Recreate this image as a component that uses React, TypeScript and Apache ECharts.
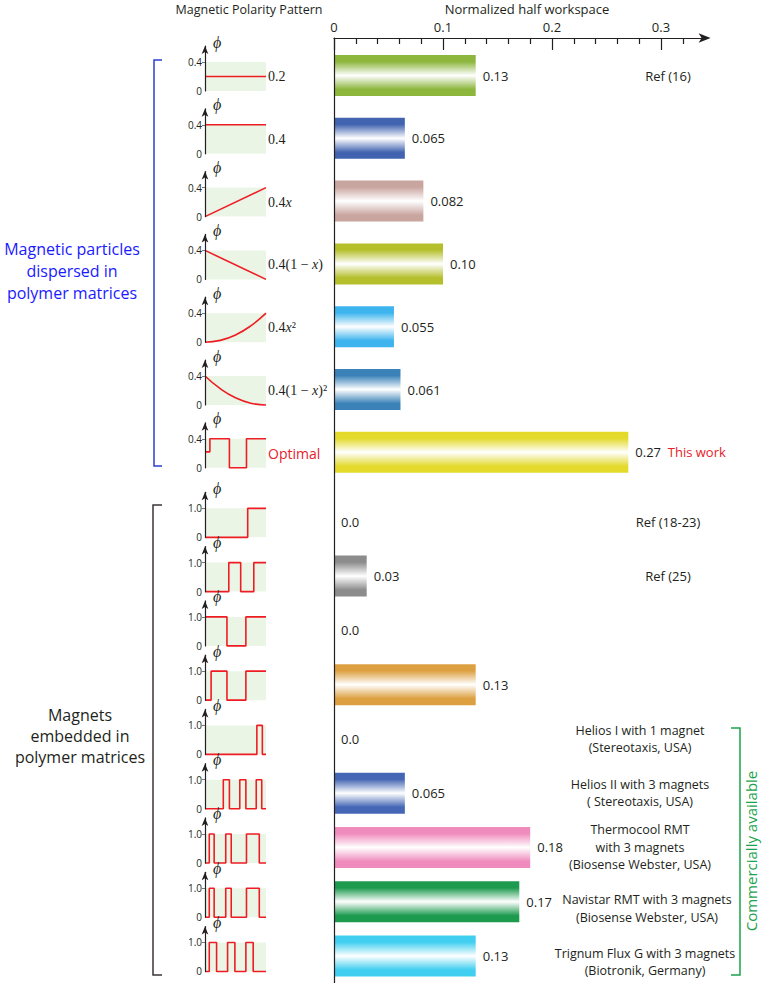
import React, { useEffect, useRef } from 'react';
import * as echarts from 'echarts';

const SANS = '"Open Sans", "Noto Sans", sans-serif';
const SERIF = '"Liberation Serif", "DejaVu Serif", serif';
const INK = '#231f20';

// ---------- data ----------
const particleCategories = ['0.2', '0.4', '0.4x', '0.4(1-x)', '0.4x^2', '0.4(1-x)^2', 'Optimal'];
const particleValues = [0.13, 0.065, 0.082, 0.1, 0.055, 0.061, 0.27];
const particleValueLabels = ['0.13', '0.065', '0.082', '0.10', '0.055', '0.061', '0.27'];
const particleColors = ['#8cb63c', '#4264b0', '#c9a5a0', '#b5bf2c', '#3db4ee', '#3a82b8', '#e3da2c'];
const particleInlineNotes = ['', '', '', '', '', '', 'This work'];
const particlePatternLabels = [
  '{n|0.2}',
  '{n|0.4}',
  '{n|0.4}{i|x}',
  '{n|0.4(1 − }{i|x}{n|)}',
  '{n|0.4}{i|x}{n|²}',
  '{n|0.4(1 − }{i|x}{n|)²}',
  '{o|Optimal}',
];
const particlePatterns: number[][][] = [
  [[0, 0.2], [1, 0.2]],
  [[0, 0.4], [1, 0.4]],
  [[0, 0], [1, 0.4]],
  [[0, 0.4], [1, 0]],
  [[0, 0], [0.25, 0.025], [0.5, 0.1], [0.75, 0.225], [1, 0.4]],
  [[0, 0.4], [0.25, 0.225], [0.5, 0.1], [0.75, 0.025], [1, 0]],
  [[0, 0.22], [0.08, 0.22], [0.08, 0.4], [0.4, 0.4], [0.4, 0], [0.68, 0], [0.68, 0.4], [1, 0.4]],
];
const particleSmooth = [false, false, false, false, true, true, false];

const magnetCategories = ['M1', 'M2', 'M3', 'M4', 'Helios I', 'Helios II', 'Thermocool', 'Navistar', 'Trignum'];
const magnetValues = [0, 0.03, 0, 0.13, 0, 0.065, 0.18, 0.17, 0.13];
const magnetValueLabels = ['0.0', '0.03', '0.0', '0.13', '0.0', '0.065', '0.18', '0.17', '0.13'];
const magnetColors = ['#999999', '#8c8c8c', '#999999', '#dda040', '#999999', '#4466b4', '#f08cbd', '#1c9a4e', '#40cff0'];
const magnetPatterns: number[][][] = [
  [[0, 0], [0.7, 0], [0.7, 1], [1, 1]],
  [[0, 0], [0.39, 0], [0.39, 1], [0.585, 1], [0.585, 0], [0.8, 0], [0.8, 1], [1, 1]],
  [[0, 1], [0.36, 1], [0.36, 0], [0.67, 0], [0.67, 1], [1, 1]],
  [[0, 0], [0.1, 0], [0.1, 1], [0.36, 1], [0.36, 0], [0.67, 0], [0.67, 1], [1, 1]],
  [[0, 0], [0.85, 0], [0.85, 1], [0.94, 1], [0.94, 0], [1, 0]],
  [[0, 0], [0.3, 0], [0.3, 1], [0.4, 1], [0.4, 0], [0.57, 0], [0.57, 1], [0.67, 1], [0.67, 0], [0.84, 0], [0.84, 1], [0.93, 1], [0.93, 0], [1, 0]],
  [[0, 0], [0.07, 0], [0.07, 1], [0.15, 1], [0.15, 0], [0.34, 0], [0.34, 1], [0.43, 1], [0.43, 0], [0.68, 0], [0.68, 1], [0.89, 1], [0.89, 0], [1, 0]],
  [[0, 0], [0.07, 0], [0.07, 1], [0.15, 1], [0.15, 0], [0.34, 0], [0.34, 1], [0.43, 1], [0.43, 0], [0.68, 0], [0.68, 1], [0.89, 1], [0.89, 0], [1, 0]],
  [[0, 0], [0.07, 0], [0.07, 1], [0.19, 1], [0.19, 0], [0.37, 0], [0.37, 1], [0.49, 1], [0.49, 0], [0.67, 0], [0.67, 1], [0.79, 1], [0.79, 0], [1, 0]],
];

const xMajorTicks = [0, 0.1, 0.2, 0.3];
const xMinorTicks = [0.02, 0.04, 0.06, 0.08, 0.12, 0.14, 0.16, 0.18, 0.22, 0.24, 0.26, 0.28, 0.32];

const refNotes = [
  { group: 'p', row: 0, text: 'Ref (16)' },
  { group: 'm', row: 0, text: 'Ref (18-23)' },
  { group: 'm', row: 1, text: 'Ref (25)' },
];
const commercialNotes = [
  { row: 4, dx: 0, dy: 0, text: 'Helios I with 1 magnet\n(Stereotaxis, USA)' },
  { row: 5, dx: 0, dy: 0, text: 'Helios II with 3 magnets\n( Stereotaxis, USA)' },
  { row: 6, dx: 0, dy: 0, text: 'Thermocool RMT\nwith 3 magnets\n(Biosense Webster, USA)' },
  { row: 7, dx: 7, dy: 7, text: 'Navistar RMT with 3 magnets\n(Biosense Webster, USA)' },
  { row: 8, dx: 5, dy: 6, text: 'Trignum Flux G with 3 magnets\n(Biotronik, Germany)' },
];

// ---------- layout ----------
const W = 762;
const H = 983;
const X0 = 334;
const XSCALE = 1090;
const XMAX = 0.34;
const AXIS_Y = 38;
const P_TOP = 44.1;
const P_STEP = 62.8;
const M_TOP = 494.7;
const M_STEP = 54.27;
const rowP = (i: number) => P_TOP + P_STEP * (i + 0.5);
const rowM = (i: number) => M_TOP + M_STEP * (i + 0.5);

const grad = (c: string) =>
  new echarts.graphic.LinearGradient(0, 0, 0, 1, [
    { offset: 0, color: c },
    { offset: 0.16, color: c },
    { offset: 0.5, color: '#ffffff' },
    { offset: 0.84, color: c },
    { offset: 1, color: c },
  ]);

function buildOption() {
  const grids: any[] = [];
  const xAxes: any[] = [];
  const yAxes: any[] = [];
  const series: any[] = [];
  const graphics: any[] = [];
  const gw = XMAX * XSCALE;

  // frame grid with the top arrow axis and the vertical line
  grids.push({ left: X0, top: AXIS_Y, width: gw, height: H - AXIS_Y, outerBoundsMode: 'none' });
  xAxes.push({
    gridIndex: 0, type: 'value', position: 'top', min: 0, max: XMAX, z: 10,
    axisLine: { show: true, onZero: false, symbol: ['none', 'arrow'], symbolSize: [7, 12], symbolOffset: [0, 6], lineStyle: { color: INK, width: 1.2 } },
    axisTick: { show: true, inside: true, length: 12, customValues: xMajorTicks, lineStyle: { color: INK, width: 1.2 } },
    axisLabel: { show: true, customValues: xMajorTicks, margin: 5, fontSize: 13, fontFamily: SANS, color: INK,
      formatter: (v: number) => (v === 0 ? '0' : String(Math.round(v * 10) / 10)) },
    splitLine: { show: false },
  });
  xAxes.push({
    gridIndex: 0, type: 'value', position: 'top', min: 0, max: XMAX, z: 10,
    axisLine: { show: false, onZero: false },
    axisTick: { show: true, inside: true, length: 6, customValues: xMinorTicks, lineStyle: { color: INK, width: 1.2 } },
    axisLabel: { show: false },
    splitLine: { show: false },
  });
  yAxes.push({
    gridIndex: 0, type: 'value', min: 0, max: 1, z: 10,
    axisLine: { show: true, onZero: false, lineStyle: { color: INK, width: 1.2 } },
    axisTick: { show: false }, axisLabel: { show: false }, splitLine: { show: false },
  });

  const barGroup = (top: number, step: number, cats: string[], vals: number[], labels: string[], colors: string[], notes: string[] | null) => {
    const gi = grids.length;
    grids.push({ left: X0, top, width: gw, height: step * cats.length, outerBoundsMode: 'none' });
    xAxes.push({ gridIndex: gi, type: 'value', min: 0, max: XMAX, show: false });
    yAxes.push({ gridIndex: gi, type: 'category', inverse: true, data: cats, show: false });
    series.push({
      type: 'bar', xAxisIndex: xAxes.length - 1, yAxisIndex: yAxes.length - 1, barWidth: 41,
      data: vals.map((v, i) => ({ value: v, itemStyle: { color: grad(colors[i]) } })),
      label: {
        show: true, position: 'right', distance: 7, fontSize: 13, fontFamily: SANS, color: INK,
        formatter: (p: any) => labels[p.dataIndex] + (notes && notes[p.dataIndex] ? '  {r|' + notes[p.dataIndex] + '}' : ''),
        rich: { r: { color: '#e8202a', fontSize: 13, fontFamily: SANS } },
      },
    });
  };
  barGroup(P_TOP, P_STEP, particleCategories, particleValues, particleValueLabels, particleColors, particleInlineNotes);
  barGroup(M_TOP, M_STEP, magnetCategories, magnetValues, magnetValueLabels, magnetColors, null);

  const mini = (c: number, vmax: number, pattern: number[][], smooth: boolean) => {
    const gi = grids.length;
    const rectTop = c - 13.5;
    const gh = 45;
    grids.push({ left: 205, top: rectTop - 16, width: 61, height: gh, outerBoundsMode: 'none' });
    xAxes.push({ gridIndex: gi, type: 'value', min: 0, max: 1, show: false });
    yAxes.push({
      gridIndex: gi, type: 'value', min: 0, max: (vmax * gh) / 29, z: 10,
      splitLine: { show: false },
      axisLine: { show: true, onZero: false, symbol: ['none', 'arrow'], symbolSize: [5, 8], lineStyle: { color: INK, width: 1.2 } },
      axisTick: { show: true, customValues: [vmax], length: 3, lineStyle: { color: '#777' } },
      axisLabel: { show: true, customValues: [0, vmax], margin: 3, fontSize: 10, fontFamily: SANS, color: INK,
        formatter: (v: number) => (v === 0 ? '0' : v.toFixed(1)) },
      name: 'ϕ', nameLocation: 'end', nameGap: -4,
      nameTextStyle: { fontFamily: SERIF, fontStyle: 'italic', fontSize: 16, color: INK, align: 'left', padding: [0, 0, 0, 8] },
    });
    series.push({
      type: 'line', xAxisIndex: xAxes.length - 1, yAxisIndex: yAxes.length - 1,
      data: pattern, smooth, symbol: 'none', clip: false, z: 3,
      lineStyle: { color: '#ee1d23', width: 1.6 },
      markArea: { silent: true, itemStyle: { color: '#ebf5e6' }, data: [[{ yAxis: 0 }, { yAxis: vmax }]] },
    });
  };
  particlePatterns.forEach((p, i) => mini(rowP(i), 0.4, p, particleSmooth[i]));
  magnetPatterns.forEach((p, i) => mini(rowM(i), 1.0, p, false));

  const text = (t: string, x: number, y: number, o: any = {}) => ({
    type: 'text', x, y, rotation: o.rot || 0, z: 20,
    style: {
      text: t, fill: o.fill || INK,
      fontSize: o.size || 13, fontFamily: o.family || SANS, fontStyle: o.fstyle || 'normal',
      align: o.align || 'center', textAlign: o.align || 'center',
      verticalAlign: 'middle', textVerticalAlign: 'middle',
      lineHeight: o.lh, rich: o.rich,
    },
  });

  // headers
  graphics.push(text('Magnetic Polarity Pattern', 249, 9, { size: 12.5 }));
  graphics.push(text('Normalized half workspace', 527, 9));

  // pattern formula labels
  const rich = {
    n: { fontFamily: SERIF, fontSize: 14, fill: INK },
    i: { fontFamily: SERIF, fontSize: 14, fontStyle: 'italic', fill: INK },
    o: { fontFamily: SANS, fontSize: 14, fill: '#e8202a' },
  };
  particlePatternLabels.forEach((l, i) => graphics.push(text(l, 268, rowP(i) + 1, { align: 'left', rich })));

  // reference notes
  refNotes.forEach((n) => graphics.push(text(n.text, 668, n.group === 'p' ? rowP(n.row) : rowM(n.row))));
  commercialNotes.forEach((n) => graphics.push(text(n.text, 640 + n.dx, rowM(n.row) + n.dy, { lh: 17.5, size: 12.5 })));

  // group labels and brackets
  graphics.push(text('Magnetic particles\ndispersed in\npolymer matrices', 72, 271, { size: 16, fill: '#1a1aff', lh: 22 }));
  graphics.push(text('Magnets\nembedded in\npolymer matrices', 80, 736, { size: 16, lh: 21 }));
  graphics.push({ type: 'polyline', z: 20, shape: { points: [[162, 60], [154, 60], [154, 466], [162, 466]] }, style: { stroke: '#2b3fd3', lineWidth: 1.5, fill: null } });
  graphics.push({ type: 'polyline', z: 20, shape: { points: [[162, 505], [153, 505], [153, 975], [162, 975]] }, style: { stroke: '#3d3535', lineWidth: 1.5, fill: null } });
  graphics.push({ type: 'polyline', z: 20, shape: { points: [[731, 728], [740, 728], [740, 975], [731, 975]] }, style: { stroke: '#1aa34a', lineWidth: 1.5, fill: null } });
  graphics.push(text('Commercially available', 751, 851, { size: 15, fill: '#1aa34a', rot: Math.PI / 2 }));

  return {
    animation: false,
    backgroundColor: '#ffffff',
    grid: grids,
    xAxis: xAxes,
    yAxis: yAxes,
    series,
    graphic: { elements: graphics },
  };
}

export default function App() {
  const ref = useRef<HTMLDivElement>(null);
  useEffect(() => {
    if (!ref.current) return;
    const chart = echarts.init(ref.current, null, { renderer: 'svg' });
    chart.setOption(buildOption() as any);
    return () => chart.dispose();
  }, []);
  return <div ref={ref} style={{ position: 'absolute', left: 0, top: 0, width: W, height: H }} />;
}
